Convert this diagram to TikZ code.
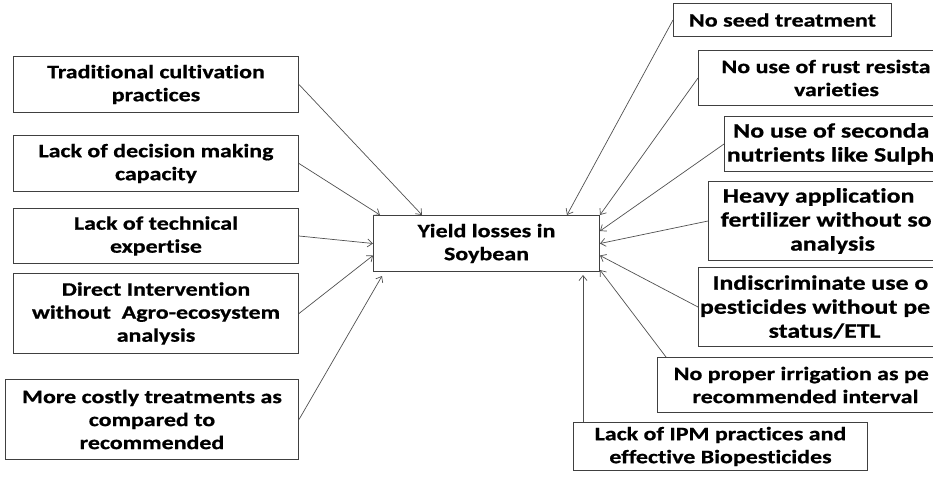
\documentclass[tikz,border=0pt]{standalone}
\usepackage{fontspec}
\setmainfont{Carlito}[FakeStretch=1.26,FakeBold=0.8,Ligatures=NoCommon]
\usetikzlibrary{arrows.meta}
\definecolor{boxgray}{RGB}{64,64,64}
\definecolor{arrowgray}{RGB}{80,80,80}

\begin{document}
\begin{tikzpicture}[x=1pt,y=-1pt,
  cause/.style={draw=boxgray,line width=1pt,anchor=north west,inner sep=0pt,align=center,
    font=\fontsize{19}{23}\selectfont\bfseries},
  bigcause/.style={cause,font=\fontsize{20.5}{24}\selectfont\bfseries},
  link/.style={draw=arrowgray,line width=0.7pt,-{Straight Barb[length=5pt,width=8pt]}}]
\useasboundingbox (0,0) rectangle (933,482);
\clip (0,0) rectangle (933,482);
\node[cause,minimum width=226pt,minimum height=56pt] (yield) at (373,215) {Yield losses in\\Soybean};

\node[cause,minimum width=285pt,minimum height=56pt] (trad) at (13,56) {Traditional cultivation\\practices};
\node[cause,minimum width=285pt,minimum height=56pt] (decision) at (13,135) {Lack of decision making\\capacity};
\node[cause,minimum width=285pt,minimum height=55pt] (tech) at (13,208) {Lack of technical\\expertise};
\node[cause,minimum width=285pt,minimum height=80pt] (direct) at (13,273) {Direct Intervention\\without \ Agro-ecosystem\\analysis};
\node[cause,minimum width=293pt,minimum height=80pt] (costly) at (5,379) {More costly treatments as\\compared to\\recommended};

% boxes on the right run past the edge of the picture
\node[cause,minimum width=218pt,minimum height=33pt] (seed) at (673,3) {No seed treatment};
\node[cause,minimum width=276pt,minimum height=55pt] (rust) at (698,50) {No use of rust resista\phantom{nt}\\varieties};
\node[bigcause,minimum width=235pt,minimum height=55pt] (second) at (724,116) {No use of seconda\phantom{ry}\\nutrients like Sulph\phantom{ur}};
\node[bigcause,minimum width=248pt,minimum height=79pt] (heavy) at (708,181) {Heavy application\phantom{ of}\\fertilizer without so\phantom{il}\\analysis};
\node[bigcause,minimum width=252pt,minimum height=79pt] (indis) at (698,267) {Indiscriminate use o\phantom{f}\\pesticides without pe\phantom{st}\\status/ETL};
\node[cause,minimum width=296pt,minimum height=55pt] (irrig) at (657,357) {No proper irrigation as pe\phantom{r}\\recommended interval};
\node[cause,minimum width=294pt,minimum height=48pt] (ipm) at (573,422) {Lack of IPM practices and\\effective Biopesticides};
\coordinate (ipmtop) at ([xshift=10pt]ipm.north west);

\draw[link] (trad.east) -- ([xshift=49pt]yield.north west);
\draw[link] (decision.east) -- ([xshift=7pt]yield.north west);
\draw[link] (tech.east) -- (yield.west);
\draw[link] (direct.east) -- ([yshift=-12pt]yield.west);
\draw[link] (costly.east) -- ([xshift=9pt,yshift=-4pt]yield.south west);

\draw[link] (seed.west) -- ([xshift=-33pt]yield.north east);
\draw[link] (rust.west) -- (yield.north east);
\draw[link] (second.west) -- ([yshift=-16pt]yield.north east);
\draw[link] (heavy.west) -- (yield.east);
\draw[link] (indis.west) -- ([yshift=-12pt]yield.east);
\draw[link] ([xshift=9pt]irrig.north west) -- ([yshift=2pt]yield.south east);
\draw[link] (ipmtop) -- ([yshift=-3pt]ipmtop |- yield.south);
\end{tikzpicture}
\end{document}
